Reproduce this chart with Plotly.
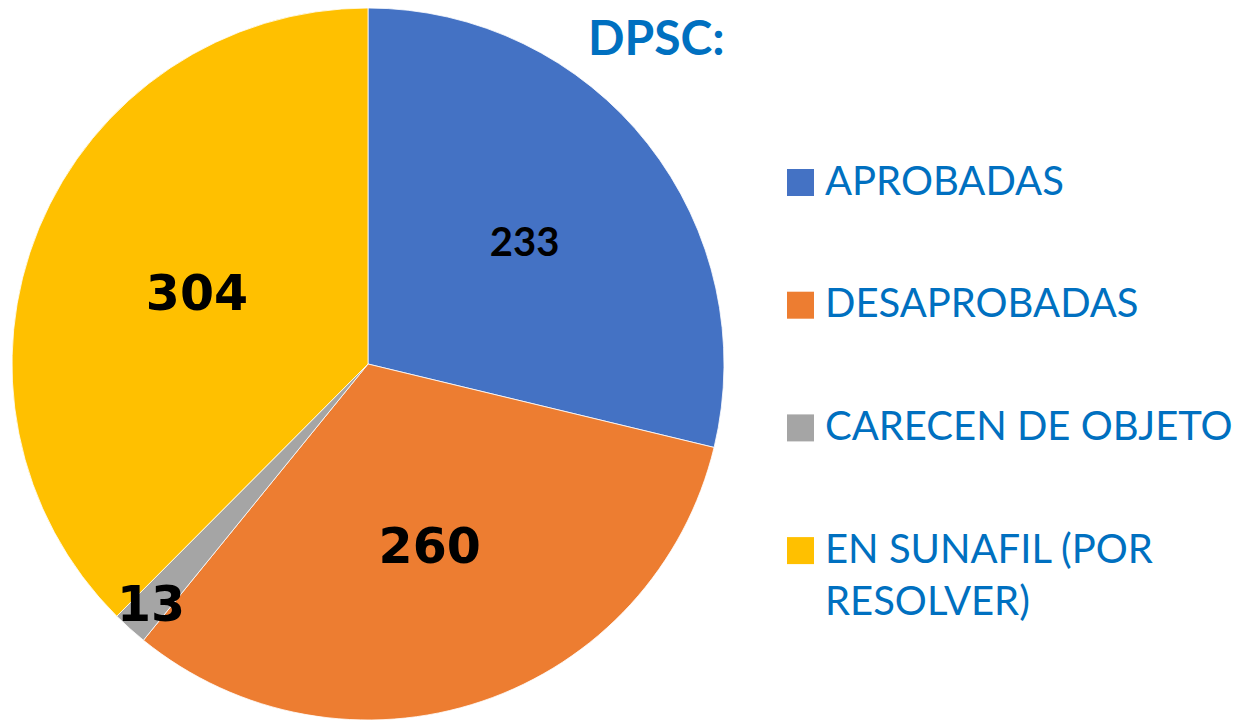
import math
import plotly.graph_objects as go

# ---- data ----
categories = ["APROBADAS", "DESAPROBADAS", "CARECEN DE OBJETO", "EN SUNAFIL (POR RESOLVER)"]
legend_labels = ["APROBADAS", "DESAPROBADAS", "CARECEN DE OBJETO", "EN SUNAFIL (POR<br>RESOLVER)"]
values = [233, 260, 13, 304]
title_text = "DPSC:"

# ---- styles ----
colors = ["#4472C4", "#ED7D31", "#A5A5A5", "#FFC000"]
text_blue = "#0070C0"
label_families = ["Lato", "DejaVu Sans", "DejaVu Sans", "DejaVu Sans"]
label_sizes = [40, 49, 49, 49]

# page body has an 8px default margin: figure is sized to fill the rest of the window
OFF = 8
W, H = 1241 - OFF, 720 - OFF
cx, cy, R = 368, 364, 356          # pie centre / radius in window pixels


def px_to_paper(px, py):
    return (px - OFF) / W, 1 - (py - OFF) / H


total = sum(values)
small = [v / total < 0.05 for v in values]

fig = go.Figure(
    go.Pie(
        labels=categories,
        values=values,
        sort=False,
        direction="clockwise",
        rotation=0,
        marker=dict(colors=colors, line=dict(color="white", width=0.8)),
        texttemplate="<b>%{value}</b>",
        textposition=["none" if s else "inside" for s in small],
        insidetextorientation="horizontal",
        textfont=dict(family=label_families, size=label_sizes, color="black"),
        domain=dict(x=[(cx - OFF - R) / W, (cx - OFF + R) / W], y=[0, 1]),
        showlegend=False,
        hoverinfo="label+value",
    )
)

annotations = []
shapes = []

# value labels for very thin slices: placed near the rim along the slice's mid-angle
cum = 0
for i, v in enumerate(values):
    mid = (cum + v / 2) / total * 2 * math.pi
    cum += v
    if small[i]:
        rr = 0.91 * R
        x, y = px_to_paper(cx + rr * math.sin(mid), cy - rr * math.cos(mid))
        annotations.append(dict(
            x=x, y=y, xref="paper", yref="paper", showarrow=False,
            text=f"<b>{v}</b>",
            font=dict(family=label_families[i], size=label_sizes[i], color="black"),
            xanchor="center", yanchor="middle",
        ))

# legend (large swatches + text)
LEG_X_SW, SW = 787, 27
LEG_X_TXT = 823
LEG_Y0, LEG_DY = 182.5, 122.7
for i, (lab, col) in enumerate(zip(legend_labels, colors)):
    yc = LEG_Y0 + LEG_DY * i
    x0, y0 = px_to_paper(LEG_X_SW, yc - SW / 2)
    x1, y1 = px_to_paper(LEG_X_SW + SW, yc + SW / 2)
    shapes.append(dict(type="rect", xref="paper", yref="paper", x0=x0, x1=x1, y0=y1, y1=y0,
                       fillcolor=col, line=dict(width=0)))
    tx, ty = px_to_paper(LEG_X_TXT, yc - 29)
    annotations.append(dict(
        x=tx, y=ty, xref="paper", yref="paper", showarrow=False,
        text=lab, align="left", xanchor="left", yanchor="top",
        font=dict(family="Lato", size=40, color=text_blue),
    ))

fig.update_layout(
    width=W,
    height=H,
    margin=dict(l=0, r=0, t=0, b=0),
    paper_bgcolor="white",
    plot_bgcolor="white",
    title=dict(
        text=f"<b>{title_text}</b>",
        x=(588 - OFF) / W, xanchor="left",
        y=1 - (38 - OFF) / H, yanchor="middle",
        font=dict(family="Lato", size=48, color=text_blue),
    ),
    annotations=annotations,
    shapes=shapes,
)

fig.write_html("out.html")
